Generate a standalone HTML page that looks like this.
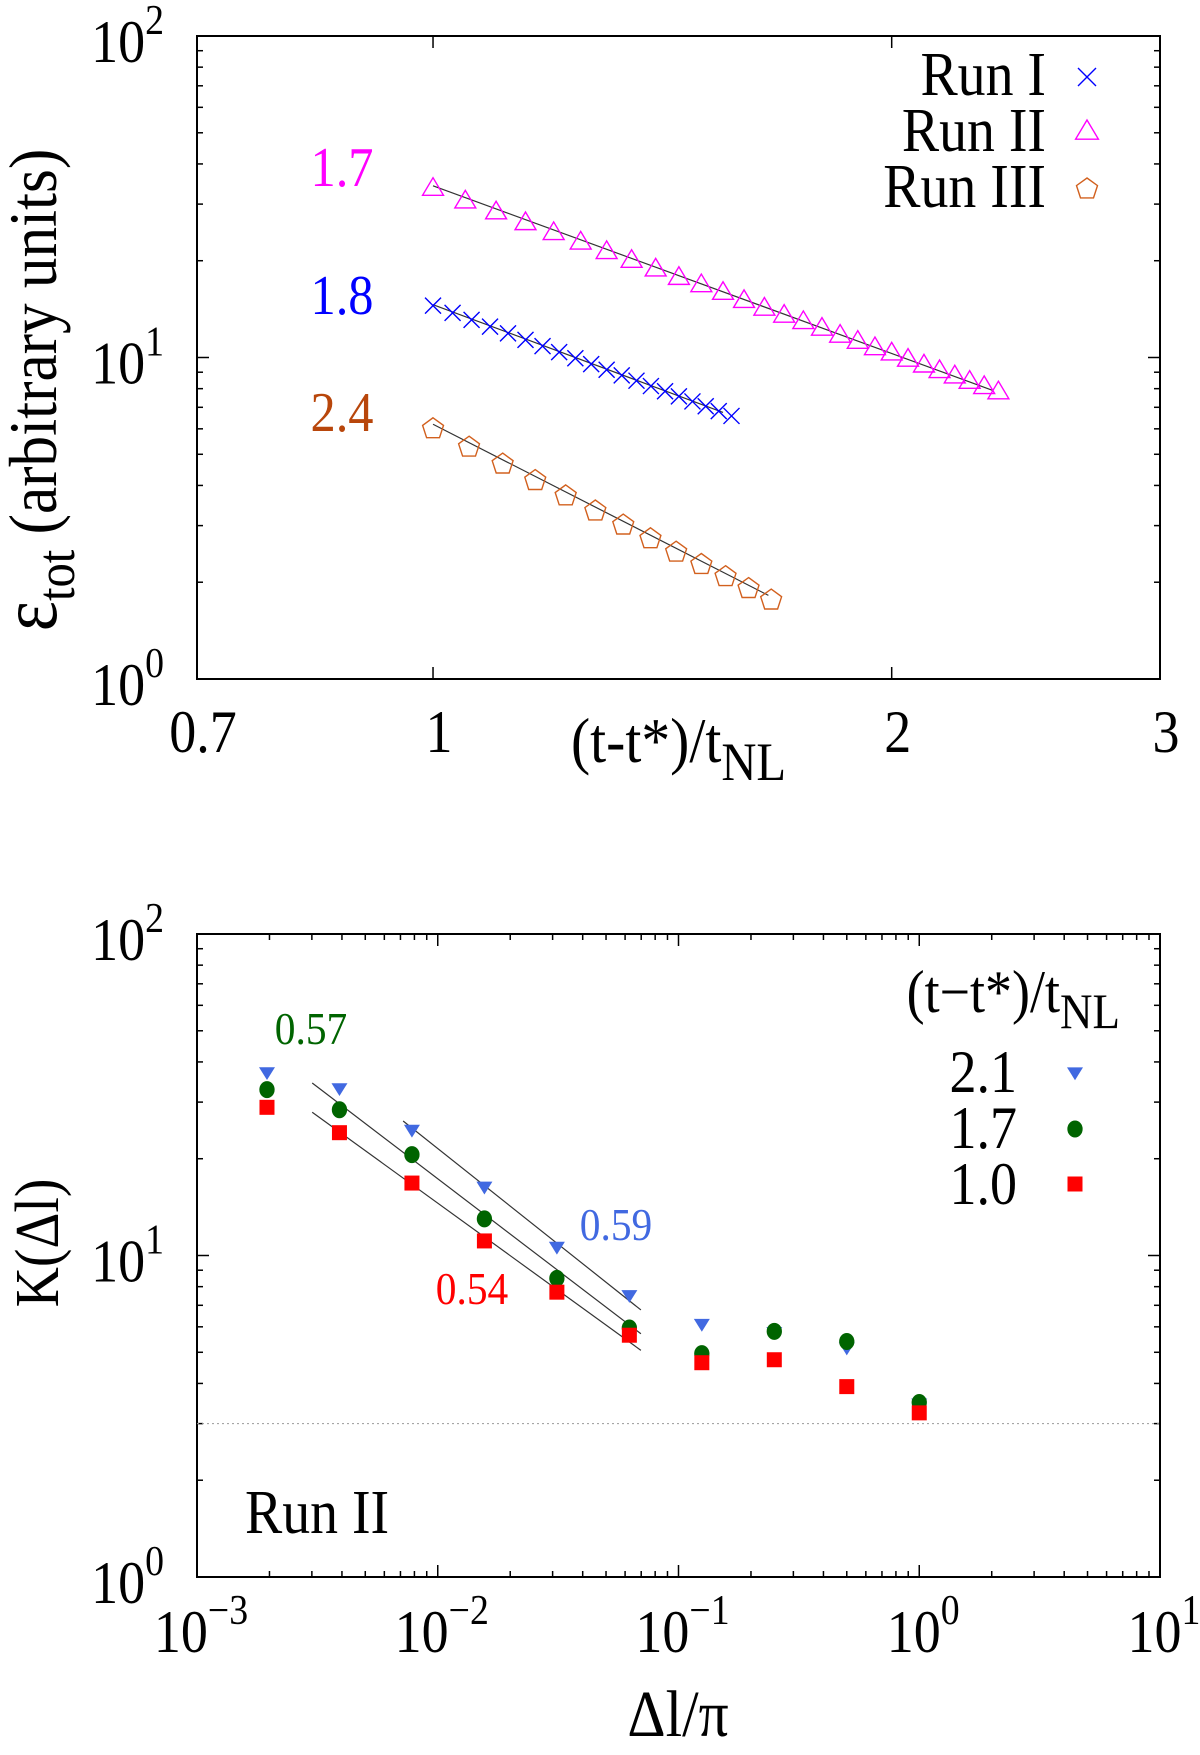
<!DOCTYPE html>
<html><head><meta charset="utf-8"><style>
html,body{margin:0;padding:0;background:#fff}
svg{display:block;font-family:"Liberation Serif",serif}
</style></head><body>
<svg id="fig" width="1200" height="1755" viewBox="0 0 1200 1755" xmlns="http://www.w3.org/2000/svg">
<g id="top"></g>
<g id="bot"></g>
</svg>
<script>
// ---- Top chart data ----
const runIIx=[1.00,1.05,1.10,1.15,1.20,1.25,1.30,1.35,1.40,1.45,1.50,1.55,1.60,1.65,1.70,1.75,1.80,1.85,1.90,1.95,2.00,2.05,2.10,2.15,2.20,2.25,2.30,2.35];
const runIIy=[33.5,30.6,28.3,26.2,24.4,22.8,21.3,20.0,18.8,17.7,16.8,15.9,15.0,14.2,13.5,12.9,12.3,11.7,11.2,10.7,10.3,9.85,9.45,9.08,8.74,8.41,8.10,7.80];
const runIx=[1.00,1.03,1.06,1.09,1.12,1.15,1.18,1.21,1.24,1.27,1.30,1.33,1.36,1.39,1.42,1.45,1.48,1.51,1.54,1.57];
const runIy=[14.5,13.77,13.09,12.47,11.89,11.35,10.85,10.39,9.95,9.54,9.16,8.80,8.47,8.15,7.85,7.57,7.30,7.05,6.81,6.58];
const runIIIx=[1.000,1.056,1.111,1.167,1.222,1.278,1.333,1.389,1.444,1.500,1.556,1.611,1.667];
const runIIIy=[6.0,5.26,4.66,4.14,3.71,3.33,3.01,2.73,2.48,2.27,2.08,1.91,1.76];
const fitIIx=[1.0,2.33]; const fitIIy=[34.2,7.9];
const fitIx=[1.0,1.55]; const fitIy=[14.6,6.75];
const fitIIIx=[1.0,1.66]; const fitIIIy=[6.2,1.82];
const topXTicks=[0.7,1,2,3]; const topXLabels=["0.7","1","2","3"];
// ---- Bottom chart data ----
const dlx=[0.001953,0.003906,0.0078125,0.015625,0.03125,0.0625,0.125,0.25,0.5,1];
const k21=[37,33.0,24.5,16.3,10.6,7.5,6.1,5.75,5.15,3.45];
const k17=[32.8,28.4,20.6,13.0,8.49,5.95,4.95,5.81,5.40,3.49];
const k10=[28.9,24.1,16.8,11.1,7.69,5.65,4.64,4.74,3.91,3.24];
const fit21x=[0.00718,0.0698]; const fit21y=[26.2,6.77];
const fit17x=[0.00301,0.0698]; const fit17y=[34.4,5.71];
const fit10x=[0.00301,0.0698]; const fit10y=[27.9,5.07];
const refLevel=3;
const botXExp=[-3,-2,-1,0,1];

const NS="http://www.w3.org/2000/svg";
const SX=0.9;
function mk(parent,tag,attrs,text){const e=document.createElementNS(NS,tag);for(const k in attrs)e.setAttribute(k,attrs[k]);if(text!==undefined)e.textContent=text;parent.appendChild(e);return e;}
function txt(g,x,y,fs,anchor,col,rot){
  const tr=rot?`translate(${x},${y}) rotate(-90) scale(${SX},1)`:`translate(${x},${y}) scale(${SX},1)`;
  return mk(g,'text',{x:0,y:0,'font-size':fs,'text-anchor':anchor||'start',fill:col||'#000',transform:tr});
}
function logAxis(a0,a1,p0,p1){const l0=Math.log10(a0),l1=Math.log10(a1);return v=>p0+(Math.log10(v)-l0)/(l1-l0)*(p1-p0);}

const L=197,R=1160;
// ===== TOP =====
const gT=document.getElementById('top');
const tT=36,tB=679;
const xT=logAxis(0.7,3,L,R), yT=logAxis(1,100,tB,tT);
let fr=mk(gT,'rect',{x:L,y:tT,width:R-L,height:tB-tT,fill:'none',stroke:'#000','stroke-width':2});

function yTicks(g,yf,name){
  for(let d=0;d<=2;d++){
    for(let m=1;m<=9;m++){
      const v=m*Math.pow(10,d); if(v>100)break;
      const y=yf(v); const len=(m===1)?12:6;
      mk(g,'line',{x1:L,y1:y,x2:L+len,y2:y,stroke:'#000','stroke-width':1.5});
      mk(g,'line',{x1:R,y1:y,x2:R-len,y2:y,stroke:'#000','stroke-width':1.5});
    }
    const y=yf(Math.pow(10,d));
    const t=txt(g,164,y+26,60,'end');
    
    mk(t,'tspan',{},'10'); mk(t,'tspan',{'font-size':42,dy:-28},String(d));
  }
}
yTicks(gT,yT,'y');
topXTicks.forEach((v,i)=>{
  const x=xT(v);
  if(i>0&&i<topXTicks.length-1){
    mk(gT,'line',{x1:x,y1:tB,x2:x,y2:tB-12,stroke:'#000','stroke-width':1.5});
    mk(gT,'line',{x1:x,y1:tT,x2:x,y2:tT+12,stroke:'#000','stroke-width':1.5});
  }
  const t=txt(gT,x+6,752,60,'middle');t.textContent=topXLabels[i];
  
});
let xt=txt(gT,571,762,64,'start');

mk(xt,'tspan',{},'(t-t*)/t');mk(xt,'tspan',{'font-size':54,dy:18},'NL');
let yt=txt(gT,56,390,68,'middle','#000',true);

mk(yt,'tspan',{'font-size':80},'ε');mk(yt,'tspan',{'font-size':54,dy:18},'tot');mk(yt,'tspan',{dy:-18},' (arbitrary units)');

function line(g,xs,ys,xf,yf,name){
  const l=mk(g,'line',{x1:xf(xs[0]),y1:yf(ys[0]),x2:xf(xs[1]),y2:yf(ys[1]),stroke:'#333','stroke-width':1.2});
  
}
line(gT,fitIIx,fitIIy,xT,yT,'fit-line-run-ii');
line(gT,fitIx,fitIy,xT,yT,'fit-line-run-i');
line(gT,fitIIIx,fitIIIy,xT,yT,'fit-line-run-iii');

function tri(g,x,y,s,col,name){const p=mk(g,'polygon',{points:`${x},${y-s} ${x-s*0.95},${y+s*0.6} ${x+s*0.95},${y+s*0.6}`,fill:'none',stroke:col,'stroke-width':1.4});}
function cross(g,x,y,s,col,name){const p=mk(g,'path',{d:`M${x-s},${y-s}L${x+s},${y+s}M${x-s},${y+s}L${x+s},${y-s}`,stroke:col,'stroke-width':1.4,fill:'none'});}
function pent(g,x,y,s,col,name){let pts=[];for(let i=0;i<5;i++){const a=-Math.PI/2+i*2*Math.PI/5;pts.push((x+s*Math.cos(a)).toFixed(1)+','+(y+s*Math.sin(a)).toFixed(1));}const p=mk(g,'polygon',{points:pts.join(' '),fill:'none',stroke:col,'stroke-width':1.4});}

runIIx.forEach((v,i)=>tri(gT,xT(v),yT(runIIy[i]),11,'#ff00ff','run-ii-point'));
runIx.forEach((v,i)=>cross(gT,xT(v),yT(runIy[i]),8,'#0000ff','run-i-point'));
runIIIx.forEach((v,i)=>pent(gT,xT(v),yT(runIIIy[i]),11,'#d2601e','run-iii-point'));

function label(g,x,y,s,col,fs,name,anchor){const t=txt(g,x,y,fs,anchor||'middle',col);t.textContent=s;return t;}
label(gT,342,186,'1.7','#ff00ff',56,'slope-label-run-ii');
label(gT,342,314,'1.8','#0000ff',56,'slope-label-run-i');
label(gT,342,431,'2.4','#b8460b',56,'slope-label-run-iii');
label(gT,1046,95,'Run I','#000',62,'legend-run-i','end');
label(gT,1046,151,'Run II','#000',62,'legend-run-ii','end');
label(gT,1046,207,'Run III','#000',62,'legend-run-iii','end');
cross(gT,1087,77,9,'#0000ff','legend-marker-run-i');
tri(gT,1087,132,12,'#ff00ff','legend-marker-run-ii');
pent(gT,1087,189,11,'#d2601e','legend-marker-run-iii');

// ===== BOTTOM =====
const gB=document.getElementById('bot');
const bT=934,bB=1577;
const xB=logAxis(0.001,10,L,R), yB=logAxis(1,100,bB,bT);
fr=mk(gB,'rect',{x:L,y:bT,width:R-L,height:bB-bT,fill:'none',stroke:'#000','stroke-width':2});

yTicks(gB,yB,'y');
botXExp.forEach(e=>{
  const base=Math.pow(10,e);
  for(let m=1;m<=9;m++){
    const v=m*base; if(v>10.0001)break;
    const x=xB(v); const len=(m===1)?12:6;
    mk(gB,'line',{x1:x,y1:bB,x2:x,y2:bB-len,stroke:'#000','stroke-width':1.5});
    mk(gB,'line',{x1:x,y1:bT,x2:x,y2:bT+len,stroke:'#000','stroke-width':1.5});
  }
  const t=txt(gB,xB(base)+4,1652,60,'middle');
  
  mk(t,'tspan',{},'10');mk(t,'tspan',{'font-size':42,dy:-28},e<0?'−'+(-e):String(e));
});
let hl=mk(gB,'line',{x1:L,y1:yB(refLevel),x2:R,y2:yB(refLevel),stroke:'#999','stroke-width':1,'stroke-dasharray':'2,3'});

xt=label(gB,678,1736,'Δl/π','#000',66,'x-axis-title');
yt=txt(gB,58,1243,62,'middle','#000',true);yt.textContent='K(Δl)';


line(gB,fit21x,fit21y,xB,yB,'fit-line-2-1');
line(gB,fit17x,fit17y,xB,yB,'fit-line-1-7');
line(gB,fit10x,fit10y,xB,yB,'fit-line-1-0');

function dtri(g,x,y,s,col,name){const p=mk(g,'polygon',{points:`${x-s},${y-s*0.7} ${x+s},${y-s*0.7} ${x},${y+s*0.9}`,fill:col});}
function circ(g,x,y,s,col,name){const p=mk(g,'ellipse',{cx:x,cy:y,rx:s*0.9,ry:s,fill:col});}
function sq(g,x,y,s,col,name){const p=mk(g,'rect',{x:x-s,y:y-s,width:2*s,height:2*s,fill:col});}
dlx.forEach((v,i)=>dtri(gB,xB(v),yB(k21[i]),8,'#4169e1','point-2-1'));
dlx.forEach((v,i)=>circ(gB,xB(v),yB(k17[i]),8.5,'#006400','point-1-7'));
dlx.forEach((v,i)=>sq(gB,xB(v),yB(k10[i]),7.5,'#ff0000','point-1-0'));

label(gB,311,1044,'0.57','#006400',46,'slope-label-1-7');
label(gB,616,1240,'0.59','#4169e1',46,'slope-label-2-1');
label(gB,472,1304,'0.54','#ff0000',46,'slope-label-1-0');
let lt=txt(gB,1120,1012,60,'end');

mk(lt,'tspan',{},'(t−t*)/t');mk(lt,'tspan',{'font-size':50,dy:16},'NL');
label(gB,1017,1092,'2.1','#000',60,'legend-2-1','end');
label(gB,1017,1148,'1.7','#000',60,'legend-1-7','end');
label(gB,1017,1204,'1.0','#000',60,'legend-1-0','end');
dtri(gB,1075,1073,8,'#4169e1','legend-marker-2-1');
circ(gB,1075,1129,8.5,'#006400','legend-marker-1-7');
sq(gB,1075,1184,7.5,'#ff0000','legend-marker-1-0');
label(gB,245,1533,'Run II','#000',62,'run-label','start');
</script>
</body></html>
